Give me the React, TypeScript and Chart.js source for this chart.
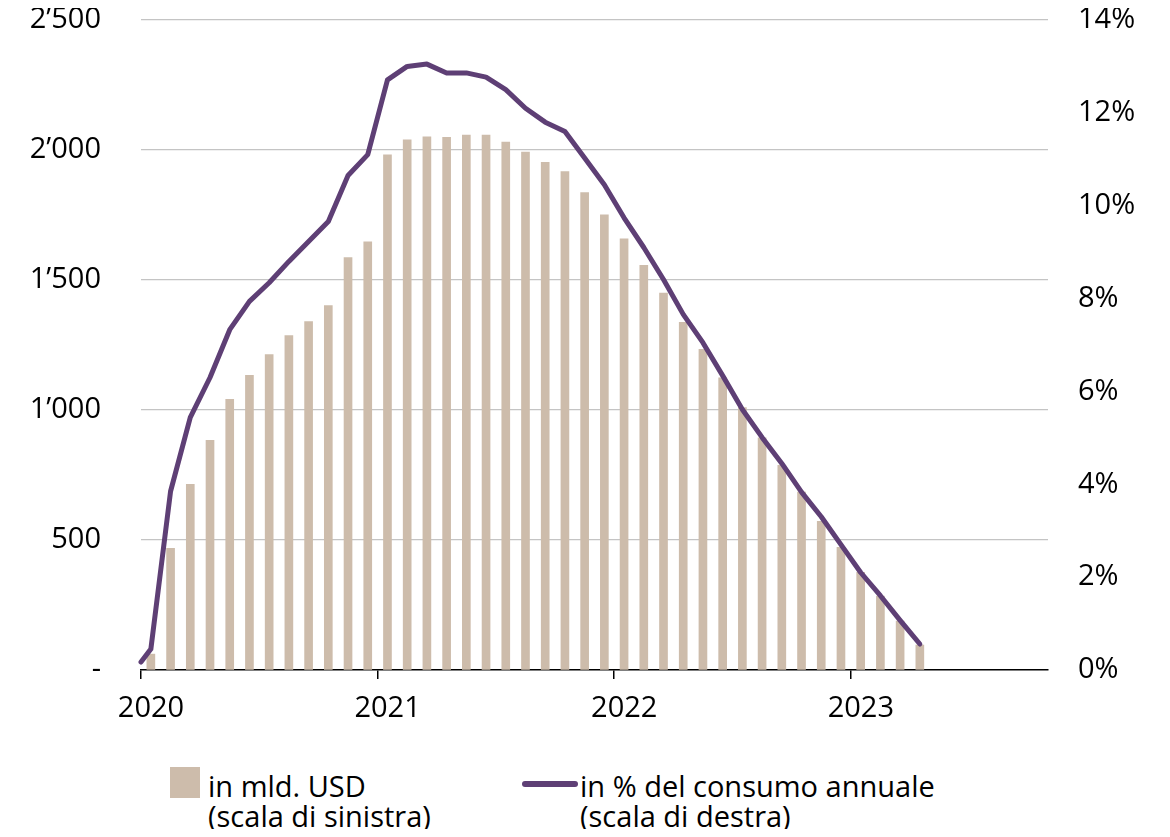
import React, { useEffect, useRef } from 'react';
import { Chart, registerables } from 'chart.js';

Chart.register(...registerables);

// Monthly observations (month label "YYYY-MM")
const months: string[] = [
  '2020-01', '2020-02', '2020-03', '2020-04', '2020-05', '2020-06',
  '2020-07', '2020-08', '2020-09', '2020-10', '2020-11', '2020-12',
  '2021-01', '2021-02', '2021-03', '2021-04', '2021-05', '2021-06',
  '2021-07', '2021-08', '2021-09', '2021-10', '2021-11', '2021-12',
  '2022-01', '2022-02', '2022-03', '2022-04', '2022-05', '2022-06',
  '2022-07', '2022-08', '2022-09', '2022-10', '2022-11', '2022-12',
  '2023-01', '2023-02', '2023-03', '2023-04',
];

// in mld. USD (left scale)
const excessSavingsUsdBn: number[] = [
  61, 468, 714, 883, 1041, 1133, 1213, 1286, 1340, 1402, 1586, 1647,
  1981, 2039, 2051, 2049, 2057, 2057, 2030, 1992, 1953, 1917, 1836, 1751,
  1658, 1556, 1450, 1337, 1233, 1124, 1009, 893, 787, 684, 572, 472,
  376, 284, 188, 96,
];

// in % of annual consumption (right scale)
const lineStartValue = 0.17;
const pctOfConsumption: number[] = [
  0.45, 3.85, 5.44, 6.3, 7.33, 7.94, 8.34, 8.8, 9.23, 9.66, 10.65, 11.1,
  12.71, 13.0, 13.05, 12.86, 12.86, 12.77, 12.5, 12.1, 11.8, 11.6, 11.03, 10.45,
  9.74, 9.1, 8.41, 7.66, 7.05, 6.34, 5.61, 5.01, 4.45, 3.83, 3.3, 2.7,
  2.1, 1.6, 1.07, 0.56,
];

const yearTicks: number[] = [2020, 2021, 2022, 2023];
const xMin = 2020;
const xMaxMonth = '2023-10';
const leftTickValues: number[] = [0, 500, 1000, 1500, 2000, 2500];
const leftTickLabels: string[] = ['-', '500', '1\u2019000', '1\u2019500', '2\u2019000', '2\u2019500'];
const rightTickValues: number[] = [0, 2, 4, 6, 8, 10, 12, 14];
const rightTickLabels: string[] = ['0%', '2%', '4%', '6%', '8%', '10%', '12%', '14%'];

const legendBarLabel = ['in mld. USD', '(scala di sinistra)'];
const legendLineLabel = ['in % del consumo annuale', '(scala di destra)'];

const BEIGE = '#cdbcab';
const PURPLE = '#5e3f75';
const GRID = '#c4c4c4';
const FONT = '"Open Sans", "Noto Sans", sans-serif';

const monthCenter = (m: string) => {
  const [y, mo] = m.split('-').map(Number);
  return y + (mo - 0.5) / 12;
};
const monthEnd = (m: string) => {
  const [y, mo] = m.split('-').map(Number);
  return y + mo / 12;
};

const zeroPad = (s: any) => {
  s.paddingTop = 0;
  s.paddingBottom = 0;
};

export default function App() {
  const ref = useRef<HTMLCanvasElement>(null);

  useEffect(() => {
    const barPts = months.map((m, i) => ({ x: monthCenter(m), y: excessSavingsUsdBn[i] }));
    const linePts = [{ x: xMin, y: lineStartValue }].concat(
      months.map((m, i) => ({ x: monthCenter(m), y: pctOfConsumption[i] }))
    );
    const font = { family: FONT, size: 29, lineHeight: 1.2 };
    const yFont = { family: FONT, size: 29, lineHeight: 0.8 };

    const chart = new Chart(ref.current as HTMLCanvasElement, {
      type: 'bar',
      data: {
        datasets: [
          {
            type: 'line',
            data: linePts,
            xAxisID: 'x',
            yAxisID: 'y1',
            borderColor: PURPLE,
            backgroundColor: PURPLE,
            borderWidth: 5,
            pointRadius: 0,
            tension: 0,
            borderCapStyle: 'round',
            borderJoinStyle: 'round',
            order: 0,
            clip: 12,
          } as any,
          {
            type: 'bar',
            data: barPts,
            xAxisID: 'x',
            yAxisID: 'y',
            backgroundColor: BEIGE,
            barThickness: 8,
            order: 1,
          } as any,
        ],
      },
      options: {
        responsive: false,
        animation: false,
        events: [],
        layout: { padding: { top: 12, left: 0, right: 0, bottom: 0 } },
        plugins: { legend: { display: false }, tooltip: { enabled: false } },
        scales: {
          x: {
            type: 'linear',
            offset: false,
            min: xMin,
            max: monthEnd(xMaxMonth),
            afterBuildTicks: (s: any) => {
              s.ticks = yearTicks.map((v) => ({ value: v }));
            },
            afterFit: (s: any) => {
              s.height = 56;
              s.paddingLeft = 0;
              s.paddingRight = 0;
            },
            ticks: {
              font,
              color: '#000',
              padding: 12,
              labelOffset: 10,
              autoSkip: false,
              maxRotation: 0,
              callback: (v: any) => String(v),
            },
            grid: {
              offset: false,
              drawOnChartArea: false,
              drawTicks: true,
              tickLength: 9,
              color: '#000',
              lineWidth: 1.5,
            },
            border: { display: true, color: '#000', width: 1.5 },
          },
          y: {
            type: 'linear',
            position: 'left',
            min: 0,
            max: 2500,
            afterBuildTicks: (s: any) => {
              s.ticks = leftTickValues.map((v) => ({ value: v }));
            },
            afterFit: (s: any) => {
              s.width = 133;
              zeroPad(s);
            },
            ticks: {
              font: yFont,
              color: '#000',
              padding: 40,
              callback: (_v: any, i: number) => leftTickLabels[i],
            },
            grid: {
              drawTicks: false,
              color: (ctx: any) => (ctx.tick && ctx.tick.value === 0 ? 'rgba(0,0,0,0)' : GRID),
              lineWidth: 1.3,
            },
            border: { display: false },
          },
          y1: {
            type: 'linear',
            position: 'right',
            min: 0,
            max: 14,
            afterBuildTicks: (s: any) => {
              s.ticks = rightTickValues.map((v) => ({ value: v }));
            },
            afterFit: (s: any) => {
              s.width = 114;
              zeroPad(s);
            },
            ticks: {
              font: yFont,
              color: '#000',
              padding: 30,
              callback: (_v: any, i: number) => rightTickLabels[i],
            },
            grid: { display: false, drawTicks: false },
            border: { display: false },
          },
        },
      } as any,
    });
    return () => chart.destroy();
  }, []);

  const textStyle: React.CSSProperties = {
    position: 'absolute',
    fontFamily: FONT,
    fontSize: 29,
    lineHeight: '30px',
    color: '#000',
    whiteSpace: 'nowrap',
  };

  return (
    <div style={{ position: 'relative', width: 1154, height: 821 }}>
      <canvas ref={ref} width={1154} height={718} style={{ display: 'block' }} />
      <div style={{ position: 'absolute', left: 162, top: 759, width: 30, height: 31, background: BEIGE }} />
      <div style={{ ...textStyle, left: 200, top: 763 }}>
        {legendBarLabel[0]}
        <br />
        {legendBarLabel[1]}
      </div>
      <div
        style={{
          position: 'absolute',
          left: 514,
          top: 773,
          width: 56,
          height: 6,
          borderRadius: 3,
          background: PURPLE,
        }}
      />
      <div style={{ ...textStyle, left: 572, top: 763 }}>
        {legendLineLabel[0]}
        <br />
        {legendLineLabel[1]}
      </div>
    </div>
  );
}
